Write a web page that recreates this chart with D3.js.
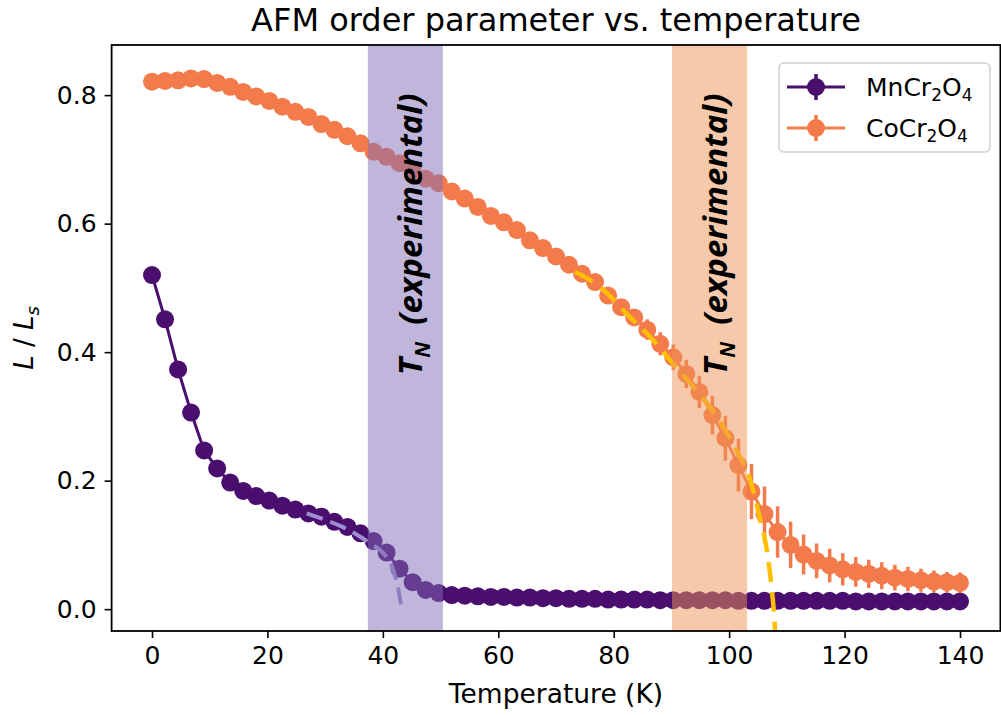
<!DOCTYPE html>
<html>
<head>
<meta charset="utf-8">
<script src="https://cdn.jsdelivr.net/npm/d3@7"></script>
<style>
  body { margin: 0; background: #fff; }
  text { font-family: "DejaVu Sans", sans-serif; }
</style>
</head>
<body>
<div class="chart"></div>
<script>
// temperatures (K)
var temps = [0, 2.26, 4.52, 6.77, 9.03, 11.29, 13.55, 15.81, 18.06, 20.32, 22.58, 24.84, 27.10, 29.35, 31.61, 33.87,
  36.13, 38.39, 40.65, 42.90, 45.16, 47.42, 49.68, 51.94, 54.19, 56.45, 58.71, 60.97, 63.23, 65.48, 67.74, 70.00,
  72.26, 74.52, 76.77, 79.03, 81.29, 83.55, 85.81, 88.06, 90.32, 92.58, 94.84, 97.10, 99.35, 101.61, 103.87, 106.13,
  108.39, 110.65, 112.90, 115.16, 117.42, 119.68, 121.94, 124.19, 126.45, 128.71, 130.97, 133.23, 135.48, 137.74, 140.00];

// L / Ls for MnCr2O4
var mnL = [0.520, 0.451, 0.373, 0.306, 0.247, 0.219, 0.197, 0.184, 0.176, 0.169, 0.161, 0.155, 0.149, 0.144, 0.136, 0.128,
  0.118, 0.106, 0.088, 0.063, 0.042, 0.030, 0.025, 0.022, 0.021, 0.020, 0.019, 0.019, 0.018, 0.018, 0.017, 0.017,
  0.016, 0.016, 0.016, 0.015, 0.015, 0.015, 0.015, 0.014, 0.014, 0.014, 0.014, 0.014, 0.014, 0.013, 0.013, 0.013,
  0.013, 0.013, 0.013, 0.013, 0.013, 0.013, 0.012, 0.012, 0.012, 0.012, 0.012, 0.012, 0.012, 0.012, 0.012];

// L / Ls for CoCr2O4 and its error
var coL = [0.821, 0.822, 0.823, 0.826, 0.825, 0.819, 0.813, 0.805, 0.798, 0.791, 0.782, 0.774, 0.766, 0.755, 0.746, 0.736,
  0.725, 0.712, 0.704, 0.694, 0.683, 0.670, 0.663, 0.650, 0.639, 0.626, 0.612, 0.602, 0.590, 0.574, 0.562, 0.549,
  0.536, 0.522, 0.509, 0.488, 0.470, 0.454, 0.435, 0.413, 0.392, 0.366, 0.338, 0.302, 0.266, 0.224, 0.183, 0.148,
  0.120, 0.100, 0.085, 0.075, 0.068, 0.062, 0.058, 0.055, 0.052, 0.049, 0.047, 0.045, 0.043, 0.042, 0.041];
var coErr = [0.002, 0.002, 0.002, 0.002, 0.002, 0.002, 0.002, 0.002, 0.002, 0.002, 0.002, 0.002, 0.002, 0.002, 0.002, 0.002,
  0.002, 0.002, 0.002, 0.002, 0.002, 0.002, 0.002, 0.002, 0.002, 0.002, 0.002, 0.002, 0.002, 0.002, 0.002, 0.002,
  0.003, 0.003, 0.004, 0.005, 0.006, 0.009, 0.016, 0.018, 0.020, 0.022, 0.025, 0.030, 0.035, 0.041, 0.043, 0.043,
  0.040, 0.036, 0.031, 0.027, 0.026, 0.025, 0.023, 0.022, 0.021, 0.020, 0.019, 0.018, 0.017, 0.016, 0.016];

// critical fits
var mnFitT = [26.8, 30.0, 33.0, 36.0, 38.0, 40.1, 41.8, 42.7, 43.3];
var mnFitL = [0.149, 0.139, 0.128, 0.113, 0.101, 0.087, 0.061, 0.030, -0.002];
var coFitT = [73.3, 78.2, 82.2, 86.3, 90.3, 93.8, 97.9, 101.3, 103.5, 105.1, 106.8, 107.4, 107.8, 108.1];
var coFitL = [0.525, 0.497, 0.460, 0.424, 0.382, 0.346, 0.299, 0.247, 0.205, 0.150, 0.076, 0.030, -0.010, -0.060];

// experimental T_N bands [from, to]
var mnBand = [37.4, 50.4];
var coBand = [90.1, 103.1];

var xTicks = [0, 20, 40, 60, 80, 100, 120, 140];
var yTicks = [0.0, 0.2, 0.4, 0.6, 0.8];

var mnColor = "#4a0e6e";
var coColor = "#f37b4b";

var width = 1001, height = 715;
var margin = { top: 45, bottom: 84, left: 111.6, right: 0.6 };

var svg = d3.select("div.chart").append("svg").attr("width", width).attr("height", height);

var xScale = d3.scaleLinear().domain([-7, 147]).range([margin.left, width - margin.right]);
var yScale = d3.scaleLinear().domain([-0.034, 0.878]).range([height - margin.bottom, margin.top]);

svg.append("clipPath").attr("id", "plotclip")
  .append("rect")
  .attr("x", margin.left).attr("y", margin.top)
  .attr("width", width - margin.right - margin.left)
  .attr("height", height - margin.bottom - margin.top);

var plot = svg.append("g").attr("clip-path", "url(#plotclip)");

function series(vals) {
  return temps.map(function(t, i) { return [t, vals[i]]; });
}

var line = d3.line()
  .x(function(d) { return xScale(d[0]); })
  .y(function(d) { return yScale(d[1]); });

// MnCr2O4
plot.append("path").datum(series(mnL))
  .attr("fill", "none").attr("stroke", mnColor).attr("stroke-width", 3)
  .attr("d", line);
plot.append("g").selectAll("circle").data(series(mnL)).enter().append("circle")
  .attr("cx", function(d) { return xScale(d[0]); })
  .attr("cy", function(d) { return yScale(d[1]); })
  .attr("r", 9).attr("fill", mnColor);

// CoCr2O4
var coData = temps.map(function(t, i) { return [t, coL[i], coErr[i]]; });
plot.append("g").selectAll("line").data(coData).enter().append("line")
  .attr("x1", function(d) { return xScale(d[0]); })
  .attr("x2", function(d) { return xScale(d[0]); })
  .attr("y1", function(d) { return yScale(d[1] - d[2]); })
  .attr("y2", function(d) { return yScale(d[1] + d[2]); })
  .attr("stroke", coColor).attr("stroke-width", 3.5);
plot.append("path").datum(coData)
  .attr("fill", "none").attr("stroke", coColor).attr("stroke-width", 3)
  .attr("d", line);
plot.append("g").selectAll("circle").data(coData).enter().append("circle")
  .attr("cx", function(d) { return xScale(d[0]); })
  .attr("cy", function(d) { return yScale(d[1]); })
  .attr("r", 9).attr("fill", coColor);

// fits
var fitLine = d3.line().curve(d3.curveMonotoneX)
  .x(function(d) { return xScale(d[0]); })
  .y(function(d) { return yScale(d[1]); });
plot.append("path").datum(mnFitT.map(function(t, i) { return [t, mnFitL[i]]; }))
  .attr("fill", "none").attr("stroke", "#9d8fd0").attr("stroke-width", 4)
  .attr("stroke-dasharray", "17,8").attr("d", fitLine);
plot.append("path").datum(coFitT.map(function(t, i) { return [t, coFitL[i]]; }))
  .attr("fill", "none").attr("stroke", "#ffbe00").attr("stroke-width", 4.5)
  .attr("stroke-dasharray", "20,10").attr("d", fitLine);

// bands
plot.append("rect")
  .attr("x", xScale(mnBand[0])).attr("width", xScale(mnBand[1]) - xScale(mnBand[0]))
  .attr("y", margin.top).attr("height", height - margin.bottom - margin.top)
  .attr("fill", "#816bb5").attr("fill-opacity", 0.5);
plot.append("rect")
  .attr("x", xScale(coBand[0])).attr("width", xScale(coBand[1]) - xScale(coBand[0]))
  .attr("y", margin.top).attr("height", height - margin.bottom - margin.top)
  .attr("fill", "#ed9357").attr("fill-opacity", 0.5);

// band labels
[mnBand, coBand].forEach(function(b) {
  var cx = xScale((b[0] + b[1]) / 2) + 17;
  var cy = yScale(0.364);
  var t = svg.append("text")
    .attr("transform", "translate(" + cx + "," + cy + ") rotate(-90)")
    .style("font-family", "'Open Sans', sans-serif")
    .attr("font-size", "33px").attr("font-weight", "bold").attr("font-style", "italic")
    .attr("fill", "#000");
  t.append("tspan").text("T");
  t.append("tspan").attr("font-size", "21px").attr("dy", 8).text("N");
  t.append("tspan").attr("dy", -8).text("\u00a0 (experimental)");
});

// axes
var axisx = d3.axisBottom(xScale).tickValues(xTicks).tickSize(7).tickPadding(8)
  .tickFormat(d3.format("d"));
var axisy = d3.axisLeft(yScale).tickValues(yTicks).tickSize(7).tickPadding(8)
  .tickFormat(d3.format(".1f"));

var gx = svg.append("g")
  .attr("transform", "translate(0," + (height - margin.bottom) + ")")
  .call(axisx);
var gy = svg.append("g")
  .attr("transform", "translate(" + margin.left + ",0)")
  .call(axisy);
[gx, gy].forEach(function(g) {
  g.select(".domain").remove();
  g.selectAll(".tick line").attr("stroke", "#000").attr("stroke-width", 1.6);
  g.selectAll(".tick text").attr("fill", "#000").attr("font-size", "25px")
    .style("font-family", "'DejaVu Sans', sans-serif");
});

svg.append("rect")
  .attr("x", margin.left).attr("y", margin.top)
  .attr("width", width - margin.right - margin.left)
  .attr("height", height - margin.bottom - margin.top)
  .attr("fill", "none").attr("stroke", "#000").attr("stroke-width", 1.8);

// titles
svg.append("text")
  .attr("x", (margin.left + width - margin.right) / 2).attr("y", 31)
  .attr("text-anchor", "middle").attr("font-size", "32px")
  .text("AFM order parameter vs. temperature");

svg.append("text")
  .attr("x", (margin.left + width - margin.right) / 2).attr("y", 703)
  .attr("text-anchor", "middle").attr("font-size", "26.5px")
  .text("Temperature (K)");

var yl = svg.append("text")
  .attr("transform", "translate(33," + ((margin.top + height - margin.bottom) / 2) + ") rotate(-90)")
  .attr("text-anchor", "middle").attr("font-size", "26px");
yl.append("tspan").attr("font-style", "italic").text("L");
yl.append("tspan").text(" / ");
yl.append("tspan").attr("font-style", "italic").text("L");
yl.append("tspan").attr("font-style", "italic").attr("font-size", "18px").attr("dy", 6).text("s");

// legend
var lg = svg.append("g");
lg.append("rect")
  .attr("x", 779).attr("y", 63).attr("width", 211).attr("height", 89)
  .attr("rx", 5).attr("fill", "#fff").attr("fill-opacity", 0.8)
  .attr("stroke", "#d0d0d0").attr("stroke-width", 1.5);
var entries = [
  { name: ["MnCr", "2", "O", "4"], color: mnColor },
  { name: ["CoCr", "2", "O", "4"], color: coColor }
];
entries.forEach(function(e, i) {
  var y = 87 + i * 41;
  lg.append("line").attr("x1", 787).attr("x2", 845).attr("y1", y).attr("y2", y)
    .attr("stroke", e.color).attr("stroke-width", 3);
  lg.append("line").attr("x1", 816).attr("x2", 816).attr("y1", y - 13).attr("y2", y + 13)
    .attr("stroke", e.color).attr("stroke-width", 3.5);
  lg.append("circle").attr("cx", 816).attr("cy", y).attr("r", 9).attr("fill", e.color);
  var t = lg.append("text").attr("x", 866).attr("y", y + 9).attr("font-size", "25px");
  t.append("tspan").text(e.name[0]);
  t.append("tspan").attr("font-size", "17px").attr("dy", 5).text(e.name[1]);
  t.append("tspan").attr("dy", -5).text(e.name[2]);
  t.append("tspan").attr("font-size", "17px").attr("dy", 5).text(e.name[3]);
});
</script>
</body>
</html>
